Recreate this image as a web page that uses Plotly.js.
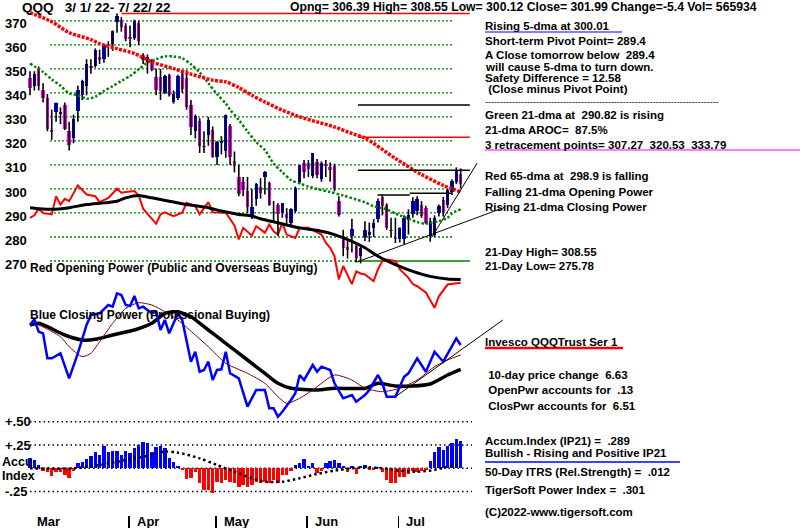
<!DOCTYPE html>
<html><head><meta charset="utf-8">
<script src="https://cdn.plot.ly/plotly-3.0.1.min.js"></script>
<style>html,body{margin:0;padding:0;background:#fff}#chart{width:800px;height:528px}</style>
</head><body><div id="chart"></div>
<script>
// ================= DATA =================
const monthLabels = ['Mar','Apr','May','Jun','Jul'];
const monthStartIdx = [0,23,43,64,85];
const priceTicks = [270,280,290,300,310,320,330,340,350,360,370];

const opens = [346,343,350.5,341,338,324.5,332,331,335,324,321.3,332.4,339,342.8,351,351.2,355,354,360.5,360.2,
 369.5,370.5,368,363,363,369,355.7,352.7,353.3,346.5,346.5,340,347.3,336.2,338,348,346,334.8,324,328.3,
 318,322.3,324.5,313.4,319,316,326.2,311.8,304.8,303,299,288.7,295.8,301,305,302.3,290.5,293.5,290,289.4,
 286,290.8,302.7,311,311,305.4,311.4,304,310.5,309,309.7,295,280.3,276,280.3,276.2,272,280,281,283.8,
 287.4,296.7,293.5,283,279.5,279,279,287,289.6,291,293.5,292,280.3,281,290,295.2,293.5,298.7,302.8,306.39];
const highs = [349,349,351,344,339.5,333,336,334,336,328,331,343,345.5,354,354,358.5,358,360.5,361.5,366,
 373,371.5,369,368,370.5,370,356.5,356,354,350,350,347.5,348,341,347.5,349.5,349.5,337,331,329.5,
 324,330,326,320,322,331,327,315.6,310,305,305,300,302.5,304.5,307.5,303,295,294,294,292,
 292,301,310,312,312,315,312.5,311.5,312,311,310.5,297,283,279,287.6,277,276.5,286.6,286,287.5,
 296,297.5,294,288,288,284,289,291.5,296.5,297,295,293,288,289,293.5,296.7,300,304,309,308.55];
const lows = [339,341,341,336,324,320.5,328,327,324.5,316,319,328,337,339,348,350.5,352,352.5,355,357.5,
 365,365.5,361.5,359,362,360,352,348,349,339,337,339.5,338.5,335.5,337,340,333,322.5,321,315,
 315,318,313,310,314.4,313,310,306.9,297,297,290,287.5,293,296,297.7,293,286,280.4,288,285.5,
 285,290,302,304.5,305,304.5,304.5,303,305,303,299,288.5,272,271,273.5,269.4,269,278.2,278,280,
 286,289,283,280,277.5,277.7,277,281,288,289,288,285.5,278,280,288.5,288.5,292,297.5,302,300.12];
const closes = [342,348,342.8,338,325,323.7,335.6,332,325,318.5,329,341,345,352,350.5,357.8,353.5,360,359.8,365.6,
 372,367.5,362.6,362.5,370,361.6,353.5,354.8,349.5,341,340.8,347,339,339.4,347,341.5,334,325.6,330.3,317.8,
 317.3,328.7,313.5,319.5,319.8,330.6,313.4,309.5,297.7,299.5,292.3,292.3,302,298.5,307,293.5,290,289.4,294,288,
 291.6,300.6,309.8,307,308.5,315,306,311,309.5,308,300,289,275.5,274.5,283.5,271.3,275.6,283,282,285.8,
 295,292.8,283.8,282.5,279,283.6,288,289,295,296,288.7,286,286.6,288,292.8,289.8,299.4,303.5,307.7,301.99];

// Red 65-dma and green 21-dma (day index, value)
const ma65X = [0,5,9,14,16,20,24,28,33,37,42,45,48,51,54,58,62,66,70,74,77,84,90,95,99];
const ma65  = [373.4,369.6,365.1,362.2,360.5,358.4,356.4,352.9,350.1,347.8,345.3,344.6,342.2,339,336.2,332.8,330,327.9,325.8,323.1,321.2,312.7,306,301.5,298.8];
const ma21X = [0,3,5,7,9,11,13,15,17,19,21,23,25,27,29,31,33,35,37,39,41,43,45,46,48,50,52,54,56,58,60,62,64,66,69,72,75,77,79,82,84,85,87,89,91,92,94,96,97,99];
const ma21  = [352.2,348.7,345.6,343,339.8,339,337.6,338.4,340.8,342.8,345,347,349.8,352.6,354,355.2,355.2,354.4,351.9,348.5,344,339.4,335.6,333,328.7,324,319.5,316.2,310.6,307,303.7,302.3,301,300,298.7,297.3,295.6,294.5,292.8,291.5,289.8,289,287.6,286.2,285.5,285.9,286.6,288,289.8,291.5];

// Opening power (red) and its smoothing (black) drawn on the price scale
const opX = [0,1,2,3,5,6,7,8,9,11,13,15,16,18,20,21,22,24,25,26,29,30,31,33,35,36,38,39,41,42,45,47,48,49,51,52,54,55,56,57,58,59,61,62,64,65,67,68,69,70,71,72,74,75,76,77,79,80,81,82,84,85,87,88,89,91,93,94,96,99];
const opRed = [288,289,291.8,290,289.4,297,293.5,295.9,294.9,301.5,297.7,297,294.5,296.3,300.1,298.4,298.7,299.1,297.3,291.8,285.5,289.4,290.3,288.7,290.1,294.2,292.8,289.4,294.5,290.3,290.1,284.8,279,283.8,280.6,284.5,281.8,285.2,282.4,281,285.9,281,279.6,283.8,283.8,282.8,281,277.6,275.5,272,262.3,267.9,260.4,265.7,264.8,264.4,261.6,266.6,270,270.6,270,266.6,263,260.4,259.5,256.9,250.5,255.3,260.2,260.9];
const opBlackX = [0,2,5,9,13,17,20,22,25,28,32,36,41,44,48,51,53,57,62,67,70,74,77,80,84,88,92,96,99];
const opBlack = [292.2,291.8,291.5,292.2,293.5,294.2,294.9,296.3,297.3,296.3,294.9,293.5,292.2,290.8,289.4,288.7,287.6,285.9,283.8,282.4,281,278.2,275.5,272,268.5,265.7,263.6,262.5,262.3];

// Closing power panel (arbitrary units)
const cpX = [0,1,2,3,4,5,7,9,11,13,14,16,18,19,20,21,22,23,24,25,26,28,29,30,31,32,34,35,37,38,39,40,41,42,43,44,45,46,48,50,52,54,55,56,57,58,60,61,62,63,65,66,67,69,70,72,74,75,77,78,80,81,82,84,86,87,89,91,93,95,98,99];
const cpBlue = [95,100.7,88.3,86.7,61.7,61.7,66.7,41.7,66.7,95,105,106.7,115,113.3,126.7,125,115,114,124,111.7,113.3,106.7,108.3,90,100,86.7,106.7,100,58.3,68.3,48.3,50,58.3,40,50,50.7,68.3,46.7,41.7,13.3,30,30,11.7,11.7,3.3,8.3,20,26.7,45,40,55,48.3,53.3,50,36.7,21.7,25,18.3,25,30,45,36.7,23.3,23.3,43.3,46.7,61.7,48.3,68.3,58.3,81.7,75];
const cpBlackX = [0,2,4,8,12,15,19,24,28,31,34,37,41,45,50,54,57,60,66,70,77,80,84,88,92,96,99];
const cpBlack = [95,96.7,93.3,85,80,80.7,85,90,96.7,106.7,108.3,103.3,90,76.7,60,46.7,36.7,31.7,30,31.7,31.7,36.7,34,34,36,45,50.7];
const cpRedX = [0,2,7,9,12,14,16,19,22,25,28,31,34,38,41,45,50,54,57,59,62,65,70,74,77,81,85,89,93,96,99];
const cpRed = [96.7,95,83.3,73.3,63.3,66.7,78.3,96.7,111.7,117.3,115,108.3,100,85,73.3,56.7,46.7,36.7,23.3,16.7,21.7,30,45,40,31.7,28.3,31.7,40,53.3,60,65];

// Accumulation index (IP21) and its dotted average
const accum = [0.107,0.089,0.036,-0.025,-0.036,-0.082,-0.036,-0.036,-0.071,-0.107,
 -0.025,0.054,0.071,0.096,0.132,0.179,0.143,0.239,0.179,0.189,
 0.189,0.143,0.189,0.168,0.214,0.25,0.286,0.275,0.179,0.232,
 0.239,0.214,0.107,0.071,0.02,-0.018,-0.118,-0.107,-0.036,-0.154,
 -0.232,-0.232,-0.268,-0.143,-0.161,-0.125,-0.143,-0.154,-0.204,-0.179,
 -0.204,-0.179,-0.143,-0.161,-0.143,-0.161,-0.125,-0.154,-0.071,-0.071,
 -0.025,0.036,0.054,0.096,0.025,0.054,-0.054,-0.025,0.054,0.082,
 0.089,0.054,0.025,-0.036,0.02,-0.061,0.025,0.036,-0.018,-0.018,
 0.018,-0.036,-0.125,-0.154,-0.161,-0.089,-0.096,-0.061,-0.025,-0.036,
 -0.025,-0.018,0.082,0.179,0.232,0.196,0.239,0.275,0.311,0.289];
const accumMAX = [0,10,16,24,28,31,34,39,43,47,51,54,58,62,66,70,74,77,81,85,89,93,96,99];
const accumMA = [0,0,0.036,0.107,0.143,0.18,0.168,0.107,0.036,-0.036,-0.107,-0.143,-0.143,-0.107,-0.06,-0.025,0,0.01,0,-0.025,-0.036,-0.018,0.018,0.046];
const accumTicks = [0.5,0.25,-0.25,-0.5];
const accumTickText = ['+.50','+.25','-.25','-.50'];

// Level / trend lines (day index, price)
const retraceLevels = [307.8,321.5,334.9];
const retraceColors = ['#000000','#ff0000','#000000'];
const levelStartX = 75.4, levelEndX = 101.1;
const pivotSegX = [[79.9,87.3],[87.3,96.9]];
const pivotSegY = [297.5,298.2];
const supportA_X = [75.2,109.2], supportA_Y = [269.6,292.4];
const supportB_X = [92.4,102.8], supportB_Y = [280,310.8];
const cpTrendX = [83.9,108.7], cpTrendY = [23,100];

// Text
const headerLeft = 'QQQ\u00a0\u00a0\u00a03/\u00a01/\u00a022-\u00a07/\u00a022/\u00a022';
const headerRight = 'Opng=\u00a0306.39\u00a0High=\u00a0308.55\u00a0Low=\u00a0300.12\u00a0Close=\u00a0301.99\u00a0Change=-5.4\u00a0Vol=\u00a0565934';
const infoLines = [
 'Rising 5-dma at 300.01',
 'Short-term Pivot Point= 289.4',
 'A Close tomorrow below\u00a0\u00a0289.4',
 'will cause 5-dma to turn down.',
 'Safety Difference = 12.58',
 '\u00a0(Close minus Pivot Point)',
 '',
 'Green 21-dma at\u00a0\u00a0290.82 is rising',
 '21-dma AROC=\u00a0\u00a087.5%',
 '3 retracement points= 307.27\u00a0\u00a0320.53\u00a0\u00a0333.79',
 'Red 65-dma at\u00a0\u00a0298.9 is falling',
 'Falling 21-dma Opening Power',
 'Rising 21-dma Closing Power',
 '21-Day High= 308.55',
 '21-Day Low= 275.78',
 'Invesco QQQTrust Ser 1',
 '\u00a010-day price change\u00a0\u00a06.63',
 '\u00a0OpenPwr accounts for\u00a0\u00a0.13',
 '\u00a0ClosPwr accounts for\u00a0\u00a06.51',
 'Accum.Index (IP21) =\u00a0\u00a0.289',
 'Bullish - Rising and Positive IP21',
 '50-Day ITRS (Rel.Strength) =\u00a0\u00a0.012',
 'TigerSoft Power Index =\u00a0\u00a0.301',
 '(C)2022-www.tigersoft.com'
];

// ================= LAYOUT HELPERS =================
const W = 800, H = 528;
const PX = px => px / W;
const PY = py => 1 - py / H;
const FONT = 'Liberation Sans, Arial, Helvetica, sans-serif';
const infoY = [25.5,41,54.5,66.5,78,89.5,102.5,115,130,145,176,191.5,206.5,252,266,341.5,375,389.5,405.5,440.5,452.5,471.5,489.5,511.5];

const n = closes.length;
const idx = Array.from({length:n}, (_, i) => i);

const bodyBase = [], bodyLen = [], bodyCol = [];
const wickX = [], wickY = [];
for (let i = 0; i < n; i++) {
  const lo = Math.min(opens[i], closes[i]), hi = Math.max(opens[i], closes[i]);
  bodyBase.push(lo);
  bodyLen.push(Math.max(hi - lo, 0.6));
  bodyCol.push(closes[i] >= opens[i] ? '#0000ff' : '#ff00ff');
  wickX.push(i, i, null);
  wickY.push(lows[i], highs[i], null);
}
const hiMax = Math.max(...highs);
const hiIdx = highs.indexOf(hiMax);

const traces = [];
traces.push({x: opX, y: opRed, type:'scatter', mode:'lines', line:{color:'#ff0000', width:2}, yaxis:'y', hoverinfo:'skip'});
traces.push({x: opBlackX, y: opBlack, type:'scatter', mode:'lines', line:{color:'#000000', width:3, shape:'spline', smoothing:0.6}, yaxis:'y', hoverinfo:'skip'});
traces.push({x: wickX, y: wickY, type:'scatter', mode:'lines', line:{color:'#000000', width:1.6}, yaxis:'y', hoverinfo:'skip', connectgaps:false});
traces.push({x: idx, y: bodyLen, base: bodyBase, type:'bar', width:0.78, marker:{color: bodyCol, line:{width:0}}, yaxis:'y', hoverinfo:'skip'});
traces.push({x: ma21X, y: ma21, type:'scatter', mode:'lines', line:{color:'#008000', width:2.5, dash:'2.5px,2px', shape:'spline', smoothing:0.8}, yaxis:'y', hoverinfo:'skip'});
traces.push({x: ma65X, y: ma65, type:'scatter', mode:'lines', line:{color:'#ff0000', width:3.5, dash:'3px,1.4px', shape:'spline', smoothing:0.8}, yaxis:'y', hoverinfo:'skip'});
retraceLevels.forEach((v, k) => traces.push({x:[levelStartX, levelEndX], y:[v, v], type:'scatter', mode:'lines', line:{color:retraceColors[k], width:1.5}, yaxis:'y', hoverinfo:'skip'}));
traces.push({x:[hiIdx + 1, levelEndX], y:[hiMax, hiMax], type:'scatter', mode:'lines', line:{color:'#ff0000', width:1.5}, yaxis:'y', hoverinfo:'skip'});
pivotSegX.forEach((s, k) => traces.push({x: s, y:[pivotSegY[k], pivotSegY[k]], type:'scatter', mode:'lines', line:{color:'#000000', width:1.5}, yaxis:'y', hoverinfo:'skip'}));
traces.push({x: supportA_X, y: supportA_Y, type:'scatter', mode:'lines', line:{color:'#000000', width:1}, yaxis:'y', hoverinfo:'skip'});
traces.push({x: supportB_X, y: supportB_Y, type:'scatter', mode:'lines', line:{color:'#000000', width:1}, yaxis:'y', hoverinfo:'skip'});
traces.push({x: cpBlackX, y: cpBlack, type:'scatter', mode:'lines', line:{color:'#000000', width:3.5, shape:'spline', smoothing:0.6}, yaxis:'y2', hoverinfo:'skip'});
traces.push({x: cpRedX, y: cpRed, type:'scatter', mode:'lines', line:{color:'#800000', width:1, shape:'spline', smoothing:0.6}, yaxis:'y2', hoverinfo:'skip'});
traces.push({x: cpX, y: cpBlue, type:'scatter', mode:'lines', line:{color:'#0000ff', width:2.5}, yaxis:'y2', hoverinfo:'skip'});
traces.push({x: cpTrendX, y: cpTrendY, type:'scatter', mode:'lines', line:{color:'#000000', width:1}, yaxis:'y2', hoverinfo:'skip'});
traces.push({x: idx, y: accum, type:'bar', width:0.78, marker:{color: accum.map(v => v >= 0 ? '#0000ff' : '#ff0000'), line:{width:0}}, yaxis:'y3', hoverinfo:'skip'});
traces.push({x: accumMAX, y: accumMA, type:'scatter', mode:'lines', line:{color:'#000000', width:2.5, dash:'2.5px,3px', shape:'spline', smoothing:0.8}, yaxis:'y3', hoverinfo:'skip'});

const shapes = [];
priceTicks.forEach(v => {
  shapes.push({type:'line', layer:'below', xref:'paper', yref:'y', x0:PX(50), x1:PX(v === 270 ? 360 : 453), y0:v, y1:v, line:{color:'#008000', width:1.3, dash:'2px,2px'}});
});
shapes.push({type:'line', layer:'below', xref:'paper', yref:'y', x0:PX(360), x1:PX(470), y0:270, y1:270, line:{color:'#008000', width:1.3}});
[0.5, 0.25, 0, -0.25].forEach(v => {
  shapes.push({type:'line', layer:'below', xref:'paper', yref:'y3', x0:PX(30), x1:PX(472), y0:v, y1:v, line:{color:'#000000', width:1.5, dash:'1.5px,3px'}});
});
const uline = (x0, x1, py, color, w) => ({type:'line', layer:'above', xref:'paper', yref:'paper', x0:PX(x0), x1:PX(x1), y0:PY(py), y1:PY(py), line:{color, width:w}});
shapes.push(uline(485, 622, 32, '#0000ff', 1.2));
shapes.push(uline(485, 800, 150, '#ff00ff', 1.2));
shapes.push(uline(485, 623, 348, '#ff0000', 2.5));
shapes.push(uline(485, 680, 462, '#0000ff', 1.5));

const ann = [];
const txt = (text, px, py, size, extra) => Object.assign({xref:'paper', yref:'paper', x:PX(px), y:PY(py), xanchor:'left', yanchor:'middle', text, showarrow:false, borderpad:0, font:{family:FONT, size, color:'#000000', weight:'bold'}}, extra || {});
ann.push(txt(headerLeft, 21, 7, 13.5));
ann.push(txt(headerRight, 289, 7, 12.2));
infoLines.forEach((t, k) => {
  if (t === '') return;
  ann.push(txt(t, 484, infoY[k], 11.5));
});
ann.push(txt('-'.repeat(78), 484, infoY[6], 9, {font:{family:FONT, size:9, color:'#000000'}}));
ann.push(txt('Red Opening Power (Public and Overseas Buying)', 29, 268, 12));
ann.push(txt('Blue Closing Power (Professional Buying)', 29, 315, 12));
ann.push(txt('Accu', 1, 462, 12.5));
ann.push(txt('Index', 1, 476, 12.5));
monthLabels.forEach((m, k) => {
  ann.push({xref:'x', yref:'paper', x: monthStartIdx[k] - 0.3, y: PY(521), xanchor:'left', yanchor:'middle', xshift:7, text:m, showarrow:false, borderpad:0, font:{family:FONT, size:13, color:'#000000', weight:'bold'}});
});

const layout = {
  width: W, height: H,
  margin: {l:0, r:0, t:0, b:0, pad:0},
  paper_bgcolor:'#ffffff', plot_bgcolor:'rgba(0,0,0,0)',
  showlegend:false, barmode:'overlay', bargap:0,
  xaxis: {domain:[0,1], anchor:'y3', range:[-30/4.35, 770/4.35], showgrid:false, zeroline:false, showline:false,
          ticks:'outside', ticklen:12, tickwidth:1.5, tickcolor:'#000000', tickvals: monthStartIdx.map(v => v - 0.3), showticklabels:false, fixedrange:true},
  yaxis: {domain:[PY(312), PY(10)], anchor:'x', range:[248.77, 374.5], showgrid:false, zeroline:false, showline:false, ticks:'',
          tickvals: priceTicks, ticktext: priceTicks.map(String), ticklabelposition:'inside', ticklabelshift:3, ticklabelstandoff:2,
          tickfont:{family:FONT, size:13, color:'#000000', weight:'bold'}, fixedrange:true},
  yaxis2: {domain:[PY(420), PY(280)], anchor:'x', range:[0,140], visible:false, fixedrange:true},
  yaxis3: {domain:[PY(515), PY(400)], anchor:'x', range:[-0.501, 0.733], showgrid:false, zeroline:false, showline:false, ticks:'',
          tickvals: accumTicks, ticktext: accumTickText, ticklabelposition:'inside', ticklabelstandoff:2,
          tickfont:{family:FONT, size:13, color:'#000000', weight:'bold'}, fixedrange:true},
  shapes, annotations: ann
};

Plotly.newPlot('chart', traces, layout, {displayModeBar:false, staticPlot:true});
</script>
</body></html>
